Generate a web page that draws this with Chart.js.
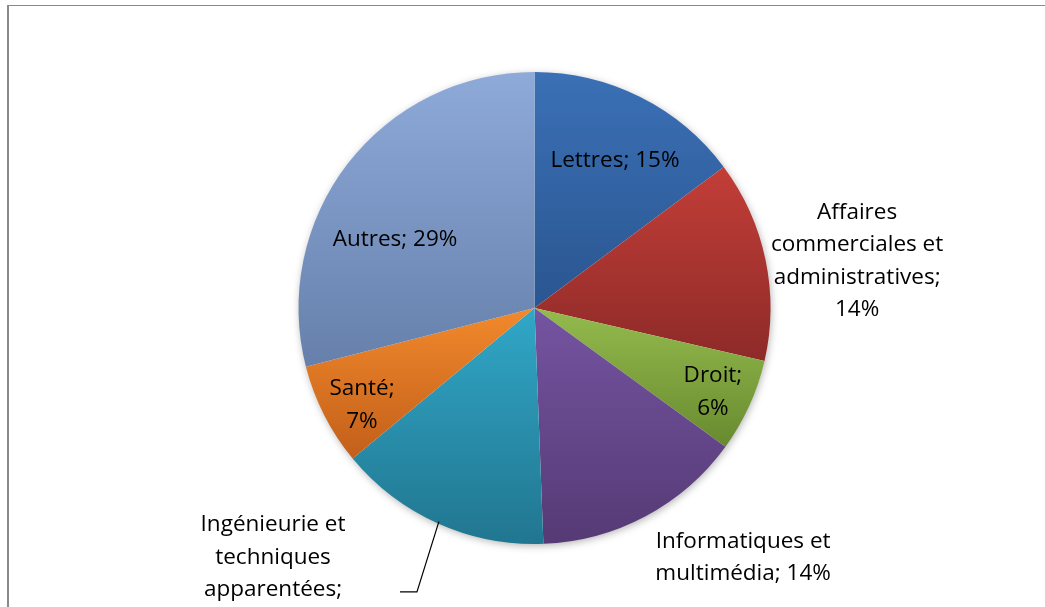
<!DOCTYPE html>
<html>
<head>
<meta charset="utf-8">
<script src="https://cdn.jsdelivr.net/npm/chart.js@4.4.1/dist/chart.umd.min.js"></script>
<style>
  html, body { margin: 0; padding: 0; background: #fff; }
  #wrap { position: relative; width: 1045px; height: 607px; }
  #frame { position: absolute; left: 7px; top: 5px; right: 0; bottom: 0;
           border-left: 2px solid #8a8a8a; border-top: 1px solid #8a8a8a; }
</style>
</head>
<body>
<div id="wrap">
  <canvas id="pie" width="1045" height="607"></canvas>
  <div id="frame"></div>
</div>
<script>
const categories = [
  'Lettres',
  'Affaires commerciales et administratives',
  'Droit',
  'Informatiques et multimédia',
  'Ingénieurie et techniques apparentées',
  'Santé',
  'Autres'
];
const values = [14.8, 13.8, 6.4, 14.4, 14.6, 7.0, 29.0];

// label wrapping as in the original
const labelLines = [
  ['Lettres; '],
  ['Affaires', 'commerciales et', 'administratives;', ''],
  ['Droit;', ''],
  ['Informatiques et', 'multimédia; '],
  ['Ingénieurie et', 'techniques', 'apparentées;', ''],
  ['Santé;', ''],
  ['Autres; ']
];

const topColors = ['#3b70b6', '#c33e38', '#94bb4d', '#7554a1', '#31a7c7', '#f2892c', '#8eaad9'];
const bottomColors = ['#2a5690', '#8d2a28', '#688a2f', '#553a75', '#217690', '#c25f1a', '#6680ab'];

// label anchor, in pie radius units from the centre
const labelPos = [
  [0.341, -0.623], [1.367, -0.199], [0.756, 0.356], [0.884, 1.057],
  [-1.108, 1.126], [-0.731, 0.411], [-0.591, -0.288]
];
const lineHeight = 32.5;

const total = values.reduce((a, b) => a + b, 0);

function sliceGradient(ctx) {
  const chart = ctx.chart;
  const area = chart.chartArea;
  const i = ctx.dataIndex;
  if (!area) return topColors[i];
  const cx = (area.left + area.right) / 2;
  const cy = (area.top + area.bottom) / 2;
  const r = Math.min(area.right - area.left, area.bottom - area.top) / 2;
  let before = 0;
  for (let k = 0; k < i; k++) before += values[k];
  const a0 = -Math.PI / 2 + before / total * Math.PI * 2;
  const a1 = a0 + values[i] / total * Math.PI * 2;
  const ys = [cy, cy + r * Math.sin(a0), cy + r * Math.sin(a1)];
  const wrapIn = (a) => a >= a0 && a <= a1;
  [Math.PI / 2, Math.PI * 1.5, -Math.PI / 2].forEach((a) => {
    if (wrapIn(a)) ys.push(cy + r * Math.sin(a));
  });
  const y0 = Math.min(...ys);
  const y1 = Math.max(...ys);
  const g = chart.ctx.createLinearGradient(0, y0, 0, y1);
  g.addColorStop(0, topColors[i]);
  g.addColorStop(1, bottomColors[i]);
  return g;
}

const pieShadow = {
  id: 'pieShadow',
  beforeDatasetsDraw(chart) {
    const arc = chart.getDatasetMeta(0).data[0];
    if (!arc) return;
    const ctx = chart.ctx;
    ctx.save();
    ctx.beginPath();
    ctx.arc(arc.x, arc.y, arc.outerRadius - 1, 0, Math.PI * 2);
    ctx.shadowColor = 'rgba(0,0,0,0.35)';
    ctx.shadowBlur = 9;
    ctx.shadowOffsetX = 1;
    ctx.shadowOffsetY = 2;
    ctx.fillStyle = '#fff';
    ctx.fill();
    ctx.restore();
  }
};

const sliceLabels = {
  id: 'sliceLabels',
  afterDatasetsDraw(chart) {
    const meta = chart.getDatasetMeta(0);
    const ctx = chart.ctx;
    ctx.save();
    ctx.font = '22.5px "Open Sans"';
    ctx.fillStyle = '#000';
    ctx.textAlign = 'center';
    ctx.textBaseline = 'middle';
    meta.data.forEach((arc, i) => {
      const r = arc.outerRadius;
      const pct = Math.round(values[i] / total * 100) + '%';
      const lines = labelLines[i].slice();
      lines[lines.length - 1] += pct;
      const x = arc.x + labelPos[i][0] * r;
      const y0 = arc.y + labelPos[i][1] * r - (lines.length - 1) * lineHeight / 2;
      lines.forEach((t, k) => ctx.fillText(t, x, y0 + k * lineHeight));
    });
    // leader line for the engineering slice
    const arc = meta.data[4];
    if (arc) {
      const r = arc.outerRadius;
      const mid = (arc.startAngle + arc.endAngle) / 2;
      ctx.beginPath();
      ctx.moveTo(arc.x + Math.cos(mid) * (r - 2), arc.y + Math.sin(mid) * (r - 2));
      ctx.lineTo(arc.x - 0.498 * r, arc.y + 1.203 * r);
      ctx.lineTo(arc.x - 0.570 * r, arc.y + 1.203 * r);
      ctx.strokeStyle = '#000';
      ctx.lineWidth = 1.2;
      ctx.stroke();
    }
    ctx.restore();
  }
};

new Chart(document.getElementById('pie'), {
  type: 'pie',
  data: {
    labels: categories,
    datasets: [{
      data: values,
      backgroundColor: sliceGradient,
      borderWidth: 0
    }]
  },
  options: {
    responsive: false,
    animation: false,
    layout: { padding: { left: 100, right: 76, top: 72, bottom: 63 } },
    plugins: { legend: { display: false }, tooltip: { enabled: false } }
  },
  plugins: [pieShadow, sliceLabels]
});
</script>
</body>
</html>
